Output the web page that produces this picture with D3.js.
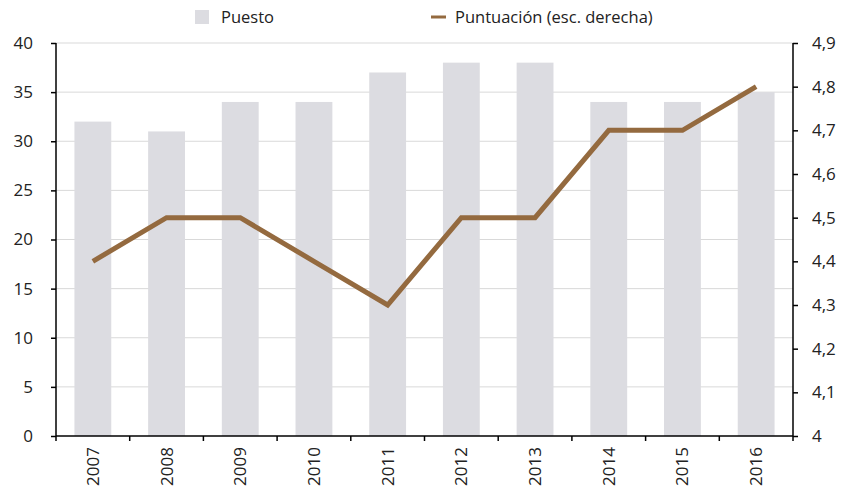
<!DOCTYPE html>
<html><head><meta charset="utf-8">
<script src="https://cdn.jsdelivr.net/npm/d3@7"></script>
<style>body{margin:0;background:#fff}svg{display:block;font-family:"Open Sans",sans-serif}</style>
</head><body><svg id="c" width="841" height="489"></svg>
<script>
const years = ["2007","2008","2009","2010","2011","2012","2013","2014","2015","2016"];
const puesto = [32,31,34,34,37,38,38,34,34,35];
const puntuacion = [4.4,4.5,4.5,4.4,4.3,4.5,4.5,4.7,4.7,4.8];
const leftTicks = [0,5,10,15,20,25,30,35,40];
const rightTicks = [4,4.1,4.2,4.3,4.4,4.5,4.6,4.7,4.8,4.9];

const svg = d3.select("#c");
const m = {l:56, r:793, t:43, b:436};
const x = d3.scaleBand().domain(years).range([m.l, m.r]).paddingInner(0.5).paddingOuter(0.25);
const xb = d3.scaleBand().domain(years).range([m.l, m.r]);
const yL = d3.scaleLinear().domain([0,40]).range([m.b, m.t]);
const yR = d3.scaleLinear().domain([4,4.9]).range([m.b, m.t]);

// grid
svg.append("g").selectAll("line").data(leftTicks.filter(d=>d>0)).join("line")
  .attr("x1", m.l).attr("x2", m.r).attr("y1", d=>yL(d)).attr("y2", d=>yL(d))
  .attr("stroke", "#d9d9d9").attr("stroke-width", 1);

// bars
svg.append("g").selectAll("rect").data(years).join("rect")
  .attr("x", d=>x(d)).attr("width", x.bandwidth())
  .attr("y", (d,i)=>yL(puesto[i])).attr("height", (d,i)=>yL(0)-yL(puesto[i]))
  .attr("fill", "#dcdce1");

// line
svg.append("path").datum(puntuacion)
  .attr("d", d3.line().x((d,i)=>xb(years[i])+xb.bandwidth()/2).y(d=>yR(d)))
  .attr("fill","none").attr("stroke","#946a3f").attr("stroke-width",5);

const fmt = d3.format(".1f");
// left axis
const gl = svg.append("g").attr("transform", `translate(${m.l},0)`)
  .call(d3.axisLeft(yL).tickValues(leftTicks).tickSize(5).tickPadding(18));
// right axis
const gr = svg.append("g").attr("transform", `translate(${m.r},0)`)
  .call(d3.axisRight(yR).tickValues(rightTicks).tickSize(5).tickPadding(14)
    .tickFormat(d=> d===4 ? "4" : fmt(d).replace(".",",")));
// bottom axis
const gb = svg.append("g").attr("transform", `translate(0,${m.b})`)
  .call(d3.axisBottom(xb).tickSize(0).tickPadding(0));
gb.selectAll(".tick text").attr("transform","rotate(-90)").attr("text-anchor","end")
  .attr("x",-11).attr("y",0).attr("dy","0.35em");
// boundary ticks
gb.append("g").selectAll("line").data(years.concat(["end"])).join("line")
  .attr("x1",(d,i)=> m.l + i*xb.step()).attr("x2",(d,i)=> m.l + i*xb.step())
  .attr("y1",0).attr("y2",5).attr("stroke","#000").attr("stroke-width",1.5);

[gl,gr,gb].forEach(g=>{
  g.selectAll(".domain").attr("stroke","#000").attr("stroke-width",1.5);
  g.selectAll(".tick line").attr("stroke","#000").attr("stroke-width",1.5);
  g.selectAll(".tick text").attr("font-size",17).attr("fill","#222").attr("font-family","'Open Sans',sans-serif");
});
gb.select(".domain").attr("d", `M${m.l},0H${m.r}`);
gl.select(".domain").attr("d", `M0,${m.t}V${m.b}`);
gr.select(".domain").attr("d", `M0,${m.t}V${m.b}`);

// legend
const lg = svg.append("g").attr("font-size",16.5).attr("fill","#222");
lg.append("rect").attr("x",195).attr("y",10).attr("width",14).attr("height",14).attr("fill","#dcdce1");
lg.append("text").attr("x",221).attr("y",23).text("Puesto");
lg.append("line").attr("x1",431).attr("x2",446).attr("y1",17).attr("y2",17).attr("stroke","#946a3f").attr("stroke-width",3);
lg.append("text").attr("x",455).attr("y",23).text("Puntuación (esc. derecha)");
</script></body></html>
